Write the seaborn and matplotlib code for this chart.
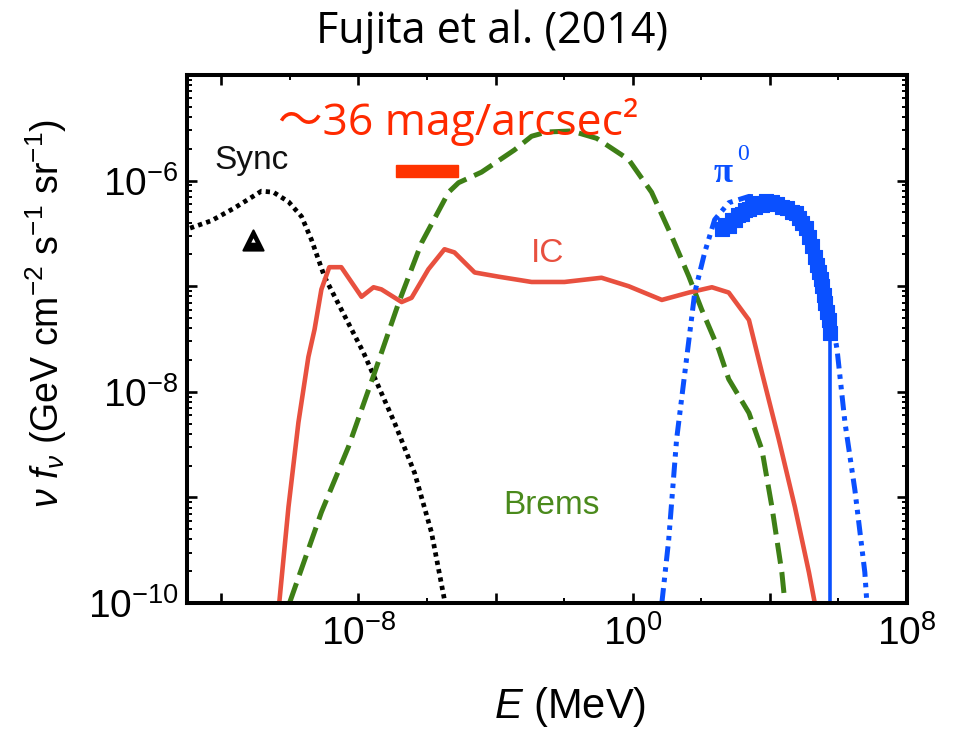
import numpy as np
import pandas as pd
import matplotlib
matplotlib.use("Agg")
import matplotlib.pyplot as plt
import seaborn as sns
from matplotlib.ticker import FixedLocator, FuncFormatter, NullFormatter
from matplotlib.patches import Rectangle

# ---------------- data (log10 E [MeV], log10 nu f_nu) ----------------
sync_logE = [-12.91, -12.29, -11.62, -10.83, -10.48, -10.04, -9.66, -9.37, -8.99, -8.50,
             -7.85, -6.95, -6.36, -5.87, -5.49]
sync_logF = [-6.45, -6.38, -6.26, -6.10, -6.11, -6.20, -6.34, -6.56, -6.91, -7.22,
             -7.63, -8.29, -8.77, -9.33, -9.97]

ic_logE = [-10.31, -10.04, -9.75, -9.46, -9.28, -9.08, -8.85, -8.50, -7.91, -7.56, -7.33,
           -6.74, -6.45, -5.96, -5.49, -5.20, -4.61, -3.91, -2.95, -1.99, -0.91, -0.12,
           0.85, 1.64, 2.31, 2.80, 3.39, 3.77, 4.26, 4.73, 5.14, 5.31]
ic_logF = [-10.0, -9.09, -8.29, -7.67, -7.41, -7.03, -6.82, -6.82, -7.10, -7.01, -7.03,
           -7.15, -7.11, -6.84, -6.65, -6.68, -6.87, -6.91, -6.96, -6.96, -6.92, -7.00,
           -7.13, -7.06, -7.01, -7.06, -7.32, -7.82, -8.45, -9.09, -9.71, -10.0]

brems_logE = [-10.01, -9.08, -8.29, -7.53, -6.83, -6.16, -5.37, -5.08, -4.41, -3.45, -2.95,
              -2.51, -1.78, -1.05, -0.12, 0.55, 1.14, 1.64, 2.01, 2.51, 2.80, 3.39, 3.77,
              4.06, 4.35, 4.44]
brems_logF = [-10.0, -9.14, -8.52, -7.82, -7.16, -6.59, -6.11, -6.02, -5.92, -5.71, -5.58,
              -5.54, -5.53, -5.60, -5.80, -6.11, -6.53, -6.91, -7.22, -7.60, -7.88, -8.20,
              -8.55, -9.09, -9.71, -10.0]

pi0_logE = [0.85, 1.05, 1.28, 1.52, 1.81, 2.10, 2.39, 2.80, 3.39, 3.97, 4.55, 5.02, 5.43,
            5.72, 5.96, 6.19, 6.48, 6.77, 6.83]
pi0_logF = [-10.0, -9.40, -8.45, -7.82, -7.06, -6.68, -6.37, -6.21, -6.15, -6.16, -6.25,
            -6.44, -6.75, -7.13, -7.60, -8.29, -8.93, -9.71, -10.0]

obs_logE = [2.60, 2.70, 2.80, 2.90, 2.98, 3.08, 3.18, 3.28, 3.39, 3.48, 3.56, 3.66, 3.77,
            3.90, 4.06, 4.20, 4.35, 4.50, 4.64, 4.75, 4.85, 4.93, 5.04, 5.14, 5.22, 5.31,
            5.37, 5.43, 5.48, 5.52, 5.57, 5.61, 5.66, 5.72, 5.75]
obs_logF = [-6.46, -6.42, -6.43, -6.37, -6.37, -6.33, -6.32, -6.28, -6.27, -6.24, -6.25,
            -6.21, -6.23, -6.19, -6.20, -6.22, -6.25, -6.26, -6.30, -6.31, -6.35, -6.40,
            -6.45, -6.53, -6.62, -6.72, -6.80, -6.87, -6.93, -7.00, -7.08, -7.16, -7.24,
            -7.32, -7.44]
obs_cut_logE = [5.745, 5.745]
obs_cut_logF = [-7.44, -10.0]

radio_logE = [-11.07]
radio_logF = [-6.56]

xtick_major = [-12, -8, -4, 0, 4, 8]
xtick_minor = [-10, -6, -2, 2, 6]
xtick_labeled = [-8, 0, 8]
ytick_labeled = [-10, -8, -6]

# ---------------- style ----------------
sns.set_theme(style="white")
plt.rcParams['font.family'] = ['Liberation Sans', 'DejaVu Sans']
plt.rcParams['mathtext.fontset'] = 'custom'
plt.rcParams['mathtext.rm'] = 'Liberation Sans'
plt.rcParams['mathtext.it'] = 'Liberation Sans:italic'
plt.rcParams['mathtext.bf'] = 'Liberation Sans:bold'

W, H = 955, 729
fig = plt.figure(figsize=(W / 100, H / 100), dpi=100)
fig.patch.set_facecolor('white')


def px(x, y):
    return x / W, 1 - y / H


ax = fig.add_axes([187 / W, 1 - 603 / H, 720 / W, 528 / H])
ax.set_xscale('log')
ax.set_yscale('log')
ax.set_facecolor('white')

RED = '#E8503F'
GREEN = '#3E7F16'
BLUE = '#0A50FF'


def curve(logE, logF, **kw):
    df = pd.DataFrame({'E': 10.0 ** np.asarray(logE), 'F': 10.0 ** np.asarray(logF)})
    sns.lineplot(data=df, x='E', y='F', ax=ax, sort=False, estimator=None,
                 errorbar=None, legend=False, **kw)


curve(sync_logE, sync_logF, color='black', lw=3.4, linestyle=(0, (0.9, 0.9)))
curve(brems_logE, brems_logF, color=GREEN, lw=3.6, linestyle=(0, (4.2, 1.7)))
curve(ic_logE, ic_logF, color=RED, lw=3.3, linestyle='-')
curve(pi0_logE, pi0_logF, color=BLUE, lw=3.6, linestyle=(0, (3.0, 1.2, 0.9, 1.2, 0.9, 1.2)))
curve(obs_cut_logE, obs_cut_logF, color=BLUE, lw=2.6, linestyle='-')

obs_df = pd.DataFrame({'E': 10.0 ** np.asarray(obs_logE), 'F': 10.0 ** np.asarray(obs_logF)})
sns.scatterplot(data=obs_df, x='E', y='F', ax=ax, marker='s', s=105, color=BLUE,
                edgecolor=BLUE, linewidth=0.8, legend=False, zorder=4)

rad_df = pd.DataFrame({'E': 10.0 ** np.asarray(radio_logE), 'F': 10.0 ** np.asarray(radio_logF)})
sns.scatterplot(data=rad_df, x='E', y='F', ax=ax, marker='^', s=210, color='black',
                edgecolor='black', linewidth=1.5, legend=False, zorder=5)
sns.scatterplot(data=rad_df, x='E', y='F', ax=ax, marker='^', s=10, color='white',
                edgecolor='white', linewidth=0, legend=False, zorder=6)

ax.set_xlim(1e-13, 1e8)
ax.set_ylim(1e-10, 1e-5)
ax.set_xlabel('')
ax.set_ylabel('')

# ticks
ax.xaxis.set_major_locator(FixedLocator([10.0 ** e for e in xtick_major]))
ax.xaxis.set_minor_locator(FixedLocator([10.0 ** e for e in xtick_minor]))
ax.yaxis.set_major_locator(FixedLocator([10.0 ** e for e in range(-10, -4)]))
ax.yaxis.set_minor_locator(FixedLocator([m * 10.0 ** e for e in range(-10, -5) for m in range(2, 10)]))


def make_fmt(labeled):
    def f(v, pos):
        e = int(round(np.log10(v)))
        if e in labeled:
            return r'$\mathregular{10^{%d}}$' % e
        return ''
    return f


ax.xaxis.set_major_formatter(FuncFormatter(make_fmt(xtick_labeled)))
ax.yaxis.set_major_formatter(FuncFormatter(make_fmt(ytick_labeled)))
ax.xaxis.set_minor_formatter(NullFormatter())
ax.yaxis.set_minor_formatter(NullFormatter())

ax.tick_params(axis='both', which='both', direction='in', top=True, right=True,
               bottom=True, left=True, colors='black')
ax.tick_params(axis='both', which='major', length=7, width=1.9, labelsize=28)
ax.tick_params(axis='both', which='minor', length=3.5, width=1.4)
ax.tick_params(axis='x', which='major', pad=9)
ax.tick_params(axis='y', which='major', pad=6)

for sp in ax.spines.values():
    sp.set_visible(True)
    sp.set_color('black')
    sp.set_linewidth(2.9)

# curve labels
fig.text(*px(252, 160), 'Sync', ha='center', va='center', fontsize=24, color='#111111')
fig.text(*px(548, 254), 'IC', ha='center', va='center', fontsize=24, color=RED)
fig.text(*px(551, 506), 'Brems', ha='center', va='center', fontsize=24, color='#4A8A1C')
fig.text(*px(723, 174), 'π', ha='center', va='center', fontsize=25, color=BLUE,
         family=['Liberation Serif', 'DejaVu Serif'], fontweight='bold')
fig.text(*px(743, 154), '0', ha='center', va='center', fontsize=17, color=BLUE,
         family=['Liberation Serif', 'DejaVu Serif'])

# axis labels
fig.text(*px(570, 718), r'$E$ (MeV)', ha='center', va='baseline', fontsize=30, color='black')
fig.text(*px(46, 313), r'$\nu\ f_{\nu}$ (GeV cm$^{-2}$ s$^{-1}$ sr$^{-1}$)', ha='center',
         va='center', rotation=90, fontsize=27, color='black')

# slide annotations
fig.text(*px(492, 43), 'Fujita et al. (2014)', ha='center', va='baseline', fontsize=31,
         color='black', family=['Open Sans', 'DejaVu Sans'])
fig.text(*px(278, 135), '～36 mag/arcsec²', ha='left', va='baseline', fontsize=32,
         color='#FF2A00', family=['Open Sans', 'Noto Sans CJK JP', 'DejaVu Sans'])
fig.patches.append(Rectangle(px(396, 177), 62 / W, 12 / H, transform=fig.transFigure,
                             color='#FF3300', zorder=10))

fig.savefig('out.png', dpi=100, facecolor='white')
